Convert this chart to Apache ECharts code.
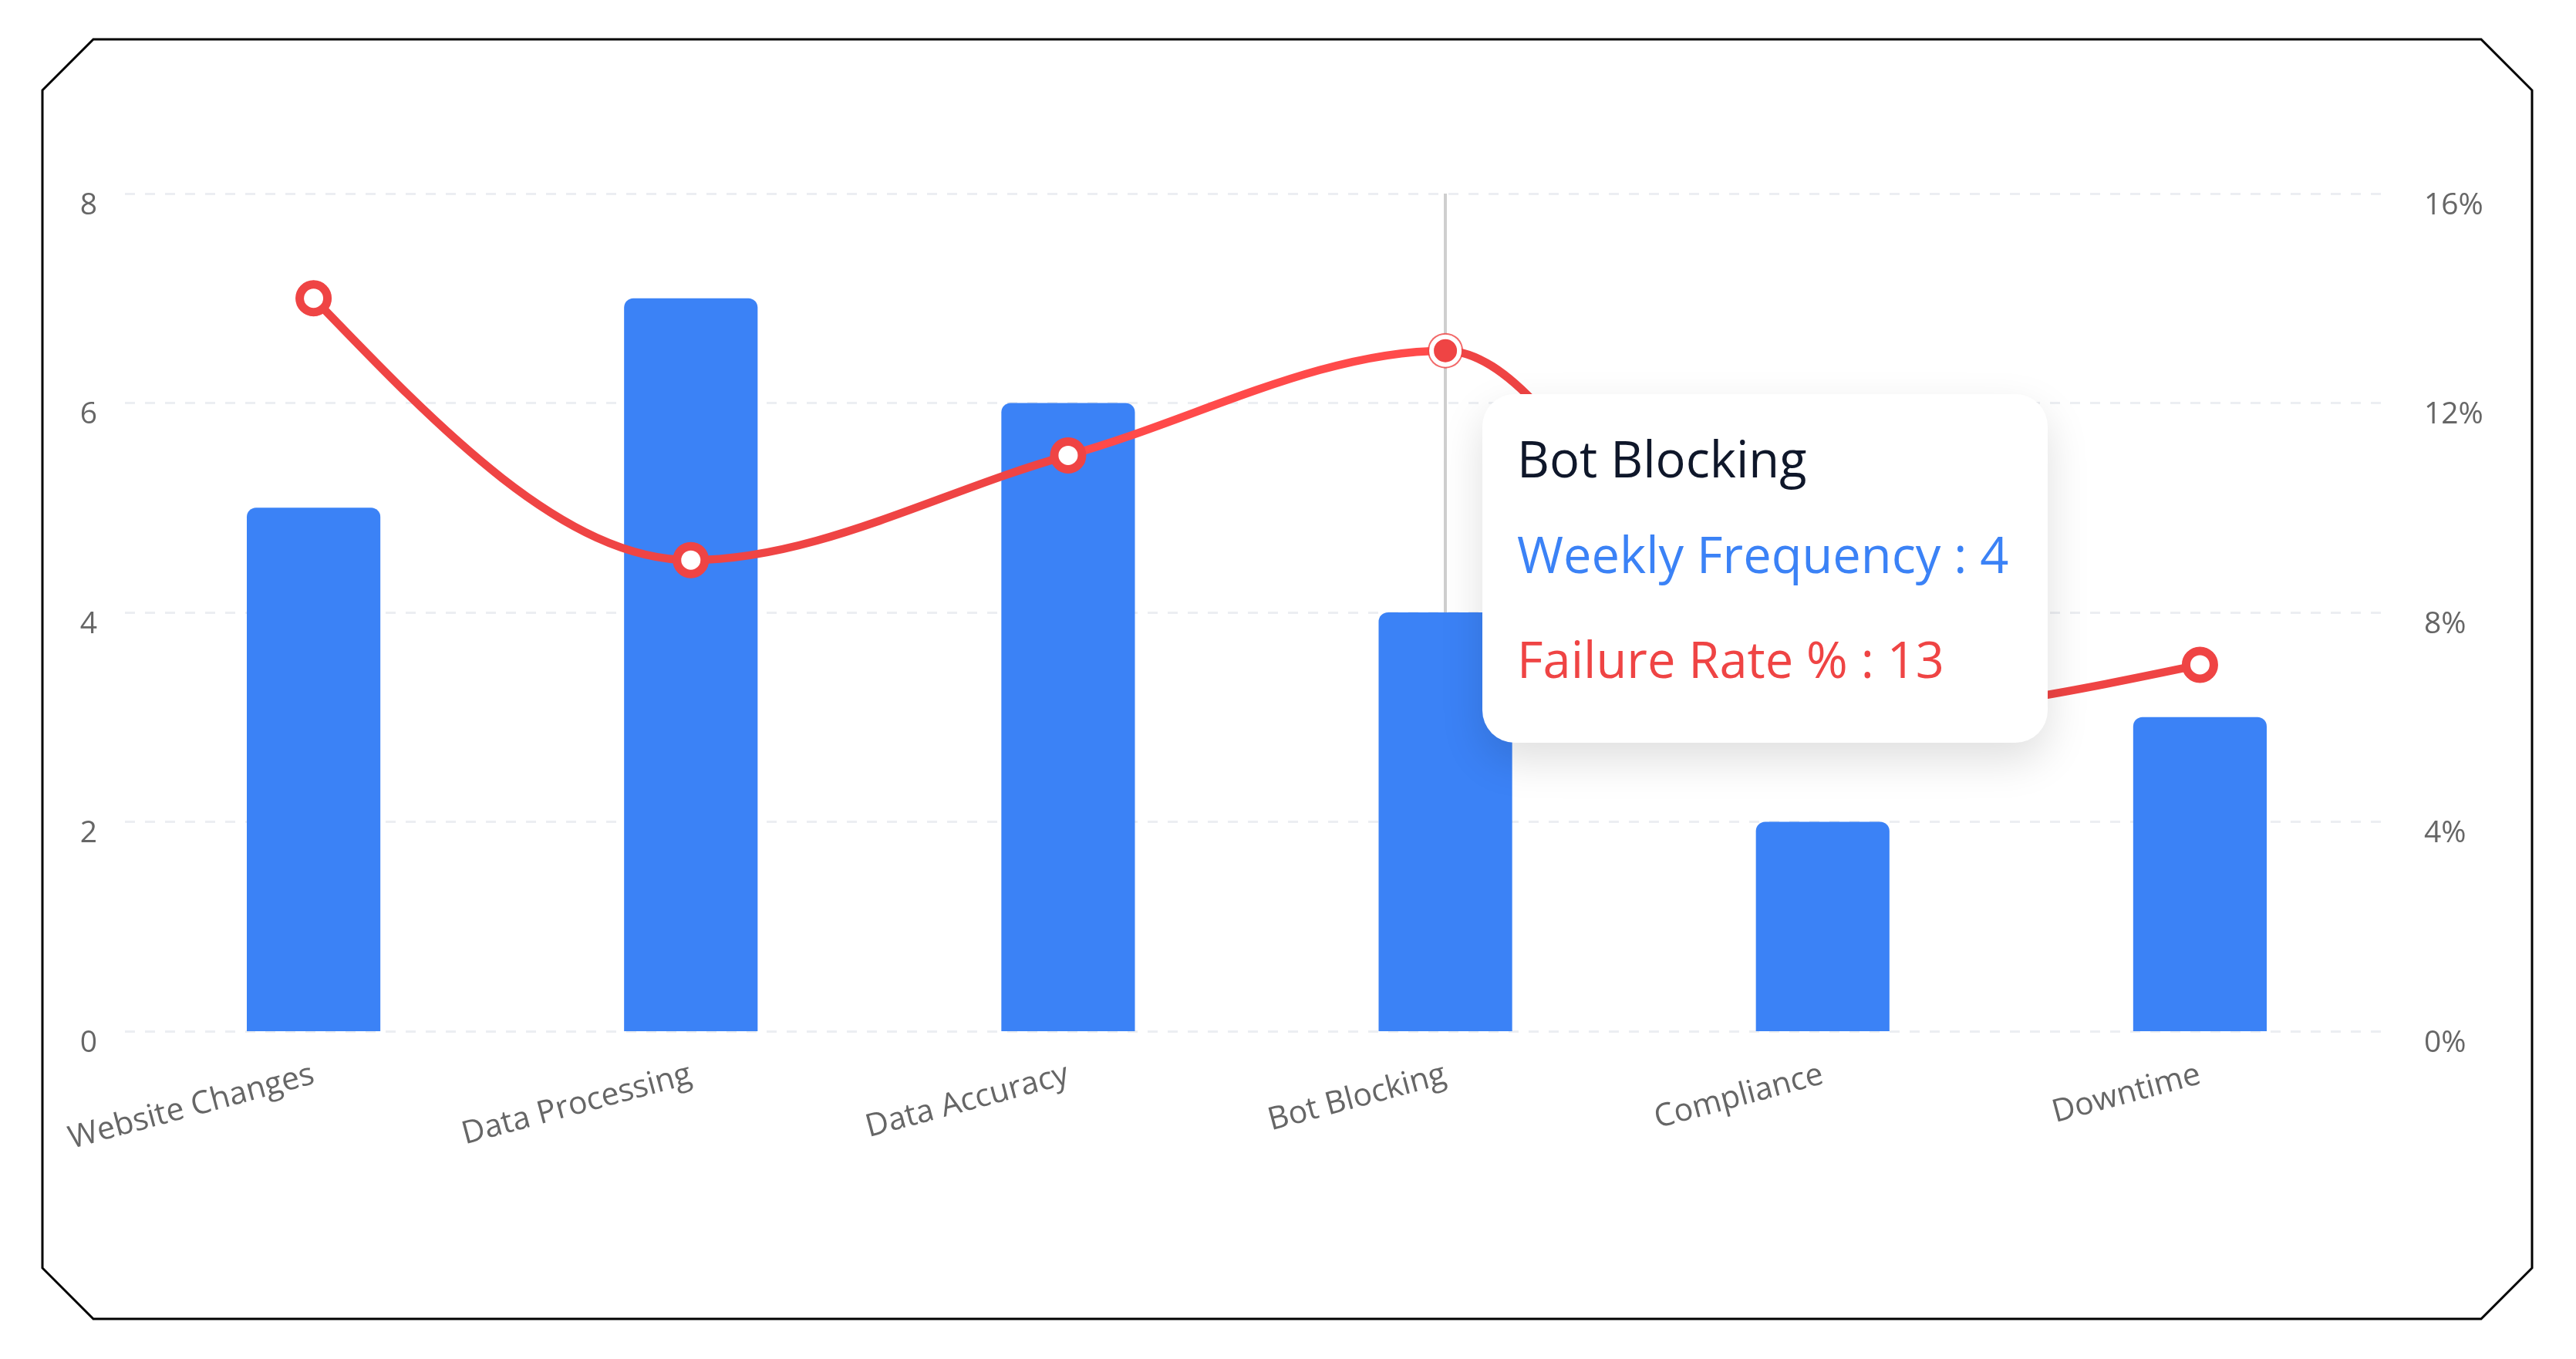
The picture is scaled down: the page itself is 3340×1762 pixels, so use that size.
<!DOCTYPE html>
<html>
<head>
<meta charset="utf-8">
<script src="https://cdn.jsdelivr.net/npm/echarts@6/dist/echarts.min.js"></script>
<style>
html,body{margin:0;padding:0;background:#ffffff;}
#chart{width:3340px;height:1762px;}
</style>
</head>
<body>
<div id="chart"></div>
<script>
// ---- data ----
const categories = ['Website Changes', 'Data Processing', 'Data Accuracy', 'Bot Blocking', 'Compliance', 'Downtime'];
const weeklyFrequency = [5, 7, 6, 4, 2, 3];
const failureRate = [14, 9, 11, 13, 6, 7];
const leftTicks = [0, 2, 4, 6, 8];
const rightTicks = [0, 4, 8, 12, 16];
const barName = 'Weekly Frequency';
const lineName = 'Failure Rate %';
const activeIndex = 3;

const BLUE = '#3b82f6';
const RED = '#ef4444';
const FONT = '"Open Sans", "Noto Sans", sans-serif';

// d3 curveMonotoneX tangents in pixel space
function monoTangents(p) {
  const n = p.length, t = new Array(n).fill(0), s = [];
  const sign = x => (x < 0 ? -1 : 1);
  for (let i = 0; i < n - 1; i++) s[i] = (p[i + 1][1] - p[i][1]) / (p[i + 1][0] - p[i][0]);
  for (let i = 1; i < n - 1; i++) {
    const h0 = p[i][0] - p[i - 1][0], h1 = p[i + 1][0] - p[i][0];
    const s0 = s[i - 1], s1 = s[i];
    const pp = (s0 * h1 + s1 * h0) / (h0 + h1);
    t[i] = (sign(s0) + sign(s1)) * Math.min(Math.abs(s0), Math.abs(s1), 0.5 * Math.abs(pp)) || 0;
  }
  if (n > 2) {
    t[0] = (3 * s[0] - t[1]) / 2;
    t[n - 1] = (3 * s[n - 2] - t[n - 2]) / 2;
  } else if (n === 2) { t[0] = t[1] = s[0]; }
  return t;
}

const chart = echarts.init(document.getElementById('chart'), null, {renderer: 'canvas'});
const bx0 = 55, by0 = 51, bx1 = 3283, by1 = 1710, cut = 66;

const axisLabelBase = {color: '#666666', fontSize: 39, fontFamily: FONT};

const option = {
  animation: false,
  backgroundColor: '#ffffff',
  graphic: [{
    type: 'polygon',
    silent: true,
    z: 0,
    shape: {points: [
      [bx0, by0 + cut], [bx0 + cut, by0], [bx1 - cut, by0], [bx1, by0 + cut],
      [bx1, by1 - cut], [bx1 - cut, by1], [bx0 + cut, by1], [bx0, by1 - cut]
    ]},
    style: {fill: 'none', stroke: '#000000', lineWidth: 3}
  }],
  grid: {left: 162, right: 243, top: 251, bottom: 425, containLabel: false},
  tooltip: {
    trigger: 'axis',
    triggerOn: 'none',
    alwaysShowContent: true,
    transitionDuration: 0,
    backgroundColor: '#ffffff',
    borderWidth: 0,
    padding: 0,
    extraCssText: 'border-radius:42px;box-shadow:0 22px 55px rgba(0,0,0,0.13);width:733px;box-sizing:border-box;',
    axisPointer: {type: 'line', z: 1, lineStyle: {color: '#cfcfcf', width: 4, type: 'solid'}},
    position: function (point, params) {
      const idx = Array.isArray(params) ? params[0].dataIndex : params.dataIndex;
      const p = chart.convertToPixel({seriesIndex: 3}, [idx, failureRate[idx]]);
      return [p[0] + 48, p[1] + 56];
    },
    formatter: function (params) {
      const idx = params[0].dataIndex;
      const row = (txt, color, mt) =>
        '<div style="font-family:' + FONT.replace(/"/g, "'") + ';font-size:65px;line-height:96px;color:' + color + ';margin-top:' + mt + 'px;white-space:nowrap;">' + txt + '</div>';
      return '<div style="padding:35px 45px 61px 45px;">' +
        row(categories[idx], '#0f172a', 0) +
        row(barName + ' : ' + weeklyFrequency[idx], BLUE, 28) +
        row(lineName + ' : ' + failureRate[idx], RED, 40) +
        '</div>';
    }
  },
  xAxis: {
    type: 'category',
    data: categories,
    axisLine: {show: false},
    axisTick: {show: false},
    axisLabel: Object.assign({}, axisLabelBase, {rotate: 15, margin: 56, interval: 0, fontSize: 41}),
    splitLine: {show: false}
  },
  yAxis: [{
    type: 'value',
    min: leftTicks[0],
    max: leftTicks[leftTicks.length - 1],
    interval: leftTicks[1] - leftTicks[0],
    axisLine: {show: false},
    axisTick: {show: false},
    axisLabel: Object.assign({}, axisLabelBase, {margin: 36, verticalAlign: 'top', lineHeight: 31}),
    splitLine: {show: true, lineStyle: {color: '#eceef2', width: 3, type: [13, 13]}}
  }, {
    type: 'value',
    min: rightTicks[0],
    max: rightTicks[rightTicks.length - 1],
    interval: rightTicks[1] - rightTicks[0],
    position: 'right',
    axisLine: {show: false},
    axisTick: {show: false},
    axisLabel: Object.assign({}, axisLabelBase, {margin: 46, verticalAlign: 'top', lineHeight: 31, formatter: '{value}%'}),
    splitLine: {show: false}
  }],
  series: [{
    name: barName,
    type: 'bar',
    data: weeklyFrequency,
    barWidth: '35.4%',
    itemStyle: {color: BLUE, borderRadius: [12, 12, 0, 0]},
    emphasis: {disabled: true},
    z: 2
  }, {
    name: 'curve',
    type: 'custom',
    yAxisIndex: 1,
    silent: true,
    z: 3,
    data: failureRate.map((v, i) => [i, v]),
    renderItem: function (params, api) {
      const i = params.dataIndex;
      if (i === 0) return {type: 'group', children: []};
      const pts = failureRate.map((v, k) => api.coord([k, v]));
      const t = monoTangents(pts);
      const p0 = pts[i - 1], p1 = pts[i];
      const dx = (p1[0] - p0[0]) / 3;
      return {
        type: 'bezierCurve',
        shape: {
          x1: p0[0], y1: p0[1], x2: p1[0], y2: p1[1],
          cpx1: p0[0] + dx, cpy1: p0[1] + dx * t[i - 1],
          cpx2: p1[0] - dx, cpy2: p1[1] - dx * t[i]
        },
        style: {stroke: RED, lineWidth: 10.5, fill: 'none', lineCap: 'round'}
      };
    }
  }, {
    name: 'dotBase',
    type: 'scatter',
    yAxisIndex: 1,
    silent: true,
    z: 4,
    data: failureRate,
    symbol: 'circle',
    symbolSize: 46,
    itemStyle: {color: RED},
    emphasis: {disabled: true}
  }, {
    name: lineName,
    type: 'line',
    yAxisIndex: 1,
    data: failureRate,
    z: 5,
    symbol: 'circle',
    symbolSize: 36,
    showSymbol: true,
    lineStyle: {width: 0, opacity: 0},
    itemStyle: {color: '#ffffff', borderColor: RED, borderWidth: 11},
    emphasis: {
      scale: false,
      lineStyle: {width: 0, opacity: 0},
      itemStyle: {color: RED, borderColor: '#ffffff', borderWidth: 6}
    }
  }]
};

chart.setOption(option);
chart.dispatchAction({type: 'showTip', seriesIndex: 3, dataIndex: activeIndex});
</script>
</body>
</html>
